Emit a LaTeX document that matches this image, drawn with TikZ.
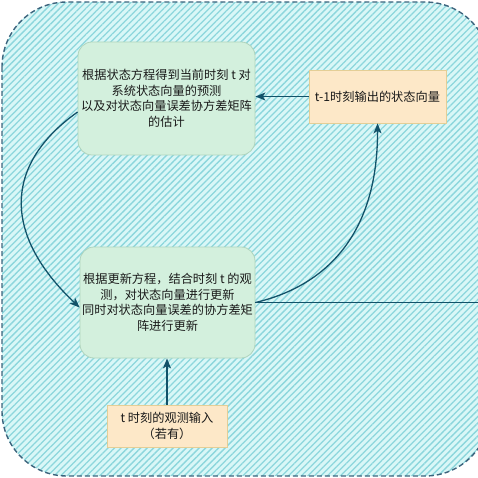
\documentclass[tikz,border=0pt]{standalone}
\usepackage{fontspec}
\setmainfont{Noto Sans CJK SC}
\usetikzlibrary{arrows.meta,patterns.meta}

\definecolor{panelbg}{RGB}{217,247,247}
\definecolor{hatch}{RGB}{140,214,220}
\definecolor{panelrim}{RGB}{60,100,125}
\definecolor{mintfill}{RGB}{211,240,221}
\definecolor{mintrim}{RGB}{176,212,188}
\definecolor{sandfill}{RGB}{253,232,200}
\definecolor{sandrim}{RGB}{228,206,150}
\definecolor{flow}{RGB}{18,82,105}
\definecolor{ink}{RGB}{25,25,25}

\tikzset{
  panel/.style={draw=panelrim, line width=1.4pt, dash pattern=on 5pt off 3pt,
    rounded corners=65pt, preaction={fill=panelbg},
    pattern={Lines[angle=45,distance=4.6pt,line width=1.3pt]}, pattern color=hatch},
  txt/.style={text=ink, align=center, inner sep=0pt,
    font=\fontsize{12.2}{15.5}\selectfont},
  stepbox/.style={txt, rectangle, rounded corners=14pt, fill=mintfill, draw=mintrim,
    line width=0.8pt},
  inbox/.style={txt, rectangle, fill=sandfill, draw=sandrim, line width=0.8pt},
  link/.style={draw=flow, line width=1.3pt},
  arr/.style={link, -{Stealth[length=10pt,width=8pt,inset=2.5pt]}},
}

\begin{document}
\begin{tikzpicture}[x=1pt,y=-1pt]
  \useasboundingbox (0,0) rectangle (478,478);
  \clip (0,0) rectangle (478,478);

  % hatched background panel
  \path[panel] (2,2) rectangle (490,476);

  % process steps
  \node[stepbox, minimum width=177pt, minimum height=113pt] (predict) at (166.5,98.5)
    {根据状态方程得到当前时刻 t 对\\系统状态向量的预测\\以及对状态向量误差协方差矩阵\\的估计};
  \node[stepbox, minimum width=175pt, minimum height=111pt] (update) at (167.5,302.5)
    {根据更新方程，结合时刻 t 的观\\测，对状态向量进行更新\\同时对状态向量误差的协方差矩\\阵进行更新};

  % inputs
  \node[inbox, minimum width=137pt, minimum height=53pt] (prev) at (377.5,96.5)
    {t-1时刻输出的状态向量};
  \node[inbox, minimum width=120pt, minimum height=42pt] (obs) at (167,426)
    {t 时刻的观测输入\\（若有）};

  \coordinate (outR) at (490,302.5);

  % connectors
  \draw[arr] (prev.west) -- (prev.west -| predict.east);
  \draw[arr] ([yshift=-13.5pt]predict.west) .. controls (3,165) and (3,235) .. ([yshift=-5pt]update.west);
  \draw[arr] (update.east) .. controls (330,285) and (378,230) .. (prev.south);
  \draw[link] (update.east) -- (outR);
  \draw[arr] (obs.north) -- (obs.north |- update.south);
\end{tikzpicture}
\end{document}
